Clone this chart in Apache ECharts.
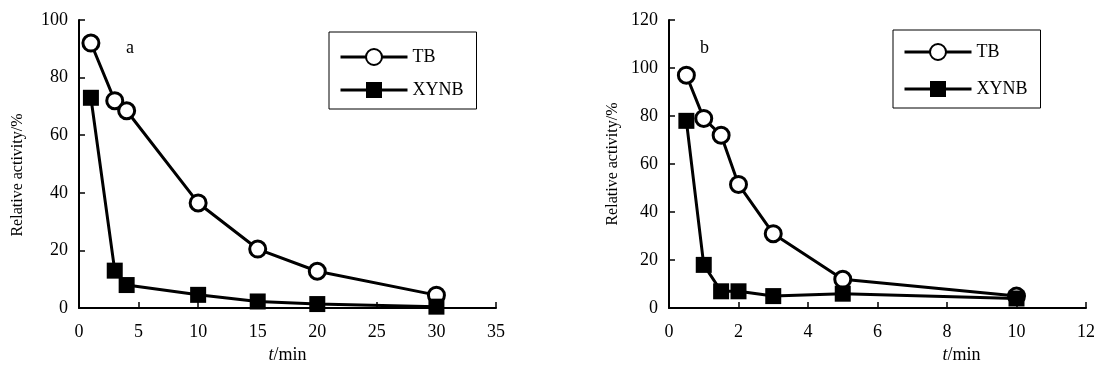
<!DOCTYPE html>
<html>
<head>
<meta charset="utf-8">
<script src="https://cdn.jsdelivr.net/npm/echarts@6/dist/echarts.min.js"></script>
<style>
  html, body { margin: 0; padding: 0; background: #fff; }
  #chart { width: 1098px; height: 369px; }
</style>
</head>
<body>
<div id="chart"></div>
<script>
// panel a: t in 0-35 min
const timeA = [1, 3, 4, 10, 15, 20, 30]
const tbA = [92, 72, 68.5, 36.5, 20.5, 12.8, 4.5]
const xynbA = [73, 13, 8, 4.6, 2.3, 1.4, 0.5]

// panel b: t in 0-12 min
const timeB = [0.5, 1, 1.5, 2, 3, 5, 10]
const tbB = [97, 79, 72, 51.5, 31, 12, 5]
const xynbB = [78, 18, 7, 7, 5, 6, 4]

const seriesNames = ['TB', 'XYNB']
const yTitle = 'Relative activity/%'

const font = 'Liberation Serif, Times New Roman, serif'
const pairs = (xs, ys) => xs.map((x, i) => [x, ys[i]])

var myChart = echarts.init(document.getElementById('chart'))

const axisBase = {
  axisLine: { show: true, lineStyle: { color: '#000', width: 2 } },
  axisTick: { show: true, inside: true, length: 6, lineStyle: { color: '#000', width: 1.5 } },
  axisLabel: { color: '#000', fontFamily: font, fontSize: 18, margin: 15 },
  splitLine: { show: false }
}

const xName = {
  name: '{i|t}/min',
  nameLocation: 'middle',
  nameGap: 30,
  nameTextStyle: {
    color: '#000', fontFamily: font, fontSize: 18, verticalAlign: 'top',
    rich: { i: { fontStyle: 'italic', fontFamily: font, fontSize: 18, color: '#000' } }
  }
}

const legendBase = {
  orient: 'vertical',
  data: seriesNames,
  borderColor: '#000',
  borderWidth: 1,
  itemWidth: 67,
  itemHeight: 20,
  lineStyle: { width: 3 },
  textStyle: { color: '#000', fontFamily: font, fontSize: 18 }
}

const tbStyle = {
  type: 'line',
  symbol: 'circle',
  symbolSize: 16,
  lineStyle: { color: '#000', width: 3 },
  itemStyle: { color: '#fff', borderColor: '#000', borderWidth: 3 }
}
const xynbStyle = {
  type: 'line',
  symbol: 'rect',
  symbolSize: 16,
  lineStyle: { color: '#000', width: 3 },
  itemStyle: { color: '#000', borderColor: '#000', borderWidth: 0 }
}

const letterStyle = { fontFamily: font, fontSize: 18, fontWeight: 'normal', color: '#000' }

myChart.setOption({
  animation: false,
  backgroundColor: '#fff',
  title: [
    { text: 'a', left: 121, top: 34, textStyle: letterStyle },
    { text: 'b', left: 695, top: 34, textStyle: letterStyle }
  ],
  legend: [
    Object.assign({}, legendBase, { left: 329, top: 32, padding: [16, 13, 10, 10], itemGap: 15 }),
    Object.assign({}, legendBase, { left: 893, top: 30, padding: [13, 13, 10, 10], itemGap: 19 })
  ],
  grid: [
    { left: 79, right: 602, top: 20, bottom: 59 },
    { left: 669, right: 10, top: 20, bottom: 59 }
  ],
  xAxis: [
    Object.assign({}, axisBase, xName, { type: 'value', gridIndex: 0, min: 0, max: 35, interval: 5 }),
    Object.assign({}, axisBase, xName, {
      type: 'value', gridIndex: 1, min: 0, max: 12, interval: 2,
      nameTextStyle: Object.assign({}, xName.nameTextStyle, { padding: [0, 0, 0, 168] })
    })
  ],
  yAxis: [
    Object.assign({}, axisBase, {
      type: 'value', gridIndex: 0, min: 0, max: 100, interval: 20,
      axisLabel: { color: '#000', fontFamily: font, fontSize: 18, margin: 11 },
      name: yTitle, nameLocation: 'middle', nameGap: 53,
      nameTextStyle: { color: '#000', fontFamily: font, fontSize: 16, padding: [0, 22, 0, 0] }
    }),
    Object.assign({}, axisBase, {
      type: 'value', gridIndex: 1, min: 0, max: 120, interval: 20,
      axisLabel: { color: '#000', fontFamily: font, fontSize: 18, margin: 11 },
      name: yTitle, nameLocation: 'middle', nameGap: 48,
      nameTextStyle: { color: '#000', fontFamily: font, fontSize: 16 }
    })
  ],
  series: [
    Object.assign({}, tbStyle, { name: 'TB', xAxisIndex: 0, yAxisIndex: 0, data: pairs(timeA, tbA) }),
    Object.assign({}, xynbStyle, { name: 'XYNB', xAxisIndex: 0, yAxisIndex: 0, data: pairs(timeA, xynbA) }),
    Object.assign({}, tbStyle, { name: 'TB', xAxisIndex: 1, yAxisIndex: 1, data: pairs(timeB, tbB) }),
    Object.assign({}, xynbStyle, { name: 'XYNB', xAxisIndex: 1, yAxisIndex: 1, data: pairs(timeB, xynbB) })
  ]
})
</script>
</body>
</html>
